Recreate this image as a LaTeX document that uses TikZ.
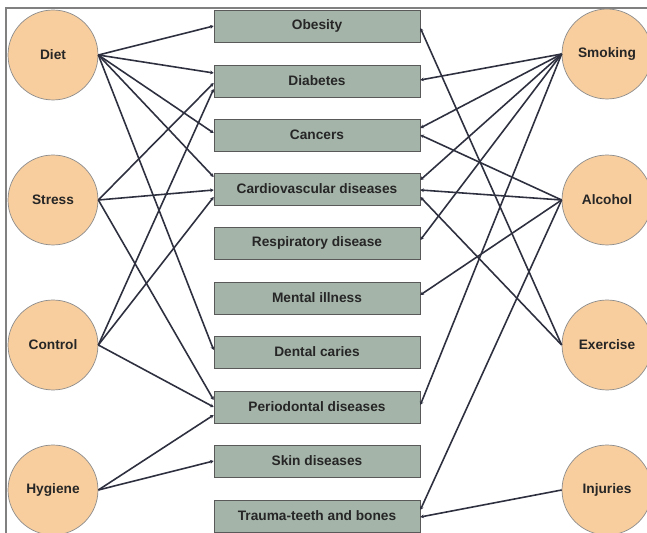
\documentclass[tikz,border=0pt]{standalone}
\usepackage{fontspec}
\setmainfont{Liberation Sans}
\usepackage{tikz}
\usetikzlibrary{shapes,arrows.meta,positioning,calc}

\definecolor{peach}{HTML}{F9CE9E}
\definecolor{sage}{HTML}{A4B4A9}
\definecolor{ink}{HTML}{2E3040}

\begin{document}
\begin{tikzpicture}[x=0.02cm, y=-0.02cm]
			\tikzstyle{Factor}	= [circle, draw=gray!90, fill=peach, minimum size=1.8cm, inner sep=0pt, text=black!85, font=\bfseries\fontsize{7.8}{9}\selectfont]
			\tikzstyle{Disease}	= [rectangle, draw=black!65, fill=sage, minimum width=4.12cm, minimum height=0.64cm, inner sep=0pt, text=black!85, font=\bfseries\fontsize{7.8}{9}\selectfont]
			\tikzstyle{Link}	= [line width=0.9pt, ink, -{Stealth[length=2pt,width=2.2pt]}]

			\clip (0,0) rectangle (647,533);
			\fill[white] (0,0) rectangle (647,533);
			\draw[gray, line width=0.9pt] (6,533) -- (6,8) -- (647,8);

			% factors on the left
			\node (diet)    at (53,55)  [Factor] {Diet};
			\node (stress)  at (53,200) [Factor] {Stress};
			\node (control) at (53,345) [Factor] {Control};
			\node (hygiene) at (53,490) [Factor] {Hygiene};

			% factors on the right
			\node (smoking)  at (607,54)  [Factor] {Smoking};
			\node (alcohol)  at (607,200) [Factor] {Alcohol};
			\node (exercise) at (607,345) [Factor] {Exercise};
			\node (injuries) at (607,490) [Factor] {Injuries};

			% diseases
			\node (obesity)     at (317,26)  [Disease] {Obesity};
			\node (diabetes)    at (317,81)  [Disease] {Diabetes};
			\node (cancers)     at (317,135) [Disease] {Cancers};
			\node (cardio)      at (317,189) [Disease] {Cardiovascular diseases};
			\node (respiratory) at (317,243) [Disease] {Respiratory disease};
			\node (mental)      at (317,298) [Disease] {Mental illness};
			\node (dental)      at (317,352) [Disease] {Dental caries};
			\node (perio)       at (317,407) [Disease] {Periodontal diseases};
			\node (skin)        at (317,461) [Disease] {Skin diseases};
			\node (trauma)      at (317,516) [Disease] {Trauma-teeth and bones};

			\draw [Link] (diet.east) to (obesity.west);
			\draw [Link] (diet.east) to ($(diabetes.west)+(0,-8)$);
			\draw [Link] (diet.east) to ($(cancers.west)+(0,-2)$);
			\draw [Link] (diet.east) to ($(cardio.west)+(0,-12)$);
			\draw [Link] (diet.east) to ($(dental.west)+(0,-2)$);

			\draw [Link] (stress.east) to ($(diabetes.west)+(0,2)$);
			\draw [Link] (stress.east) to ($(cardio.west)+(0,1)$);
			\draw [Link] (stress.east) to ($(perio.west)+(0,-7)$);

			\draw [Link] (control.east) to ($(diabetes.west)+(0,8)$);
			\draw [Link] (control.east) to ($(cardio.west)+(0,8)$);
			\draw [Link] (control.east) to (perio.west);

			\draw [Link] (hygiene.east) to ($(perio.west)+(0,8)$);
			\draw [Link] (hygiene.east) to (skin.west);

			\draw [Link] (smoking.west) to ($(diabetes.east)+(0,-1)$);
			\draw [Link] (smoking.west) to ($(cancers.east)+(0,-7)$);
			\draw [Link] (smoking.west) to ($(cardio.east)+(0,-9)$);
			\draw [Link] (smoking.west) to ($(respiratory.east)+(0,-3)$);
			\draw [Link] (smoking.west) to ($(perio.east)+(0,-2)$);

			\draw [Link] (alcohol.west) to (cancers.east);
			\draw [Link] (alcohol.west) to ($(cardio.east)+(0,1)$);
			\draw [Link] (alcohol.west) to ($(mental.east)+(0,-3)$);
			\draw [Link] (alcohol.west) to ($(trauma.east)+(0,-6)$);

			\draw [Link] (exercise.west) to ($(obesity.east)+(0,2)$);
			\draw [Link] (exercise.west) to ($(cardio.east)+(0,8)$);

			\draw [Link] (injuries.west) to ($(trauma.east)+(0,1)$);
\end{tikzpicture}
\end{document}
